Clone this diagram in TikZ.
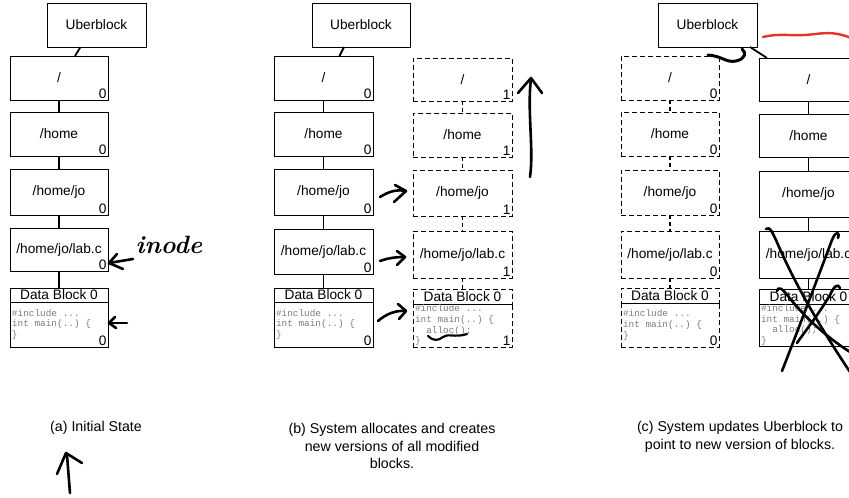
\documentclass[tikz,border=0pt]{standalone}
\usepackage{fontspec}
\newfontfamily\helv{Liberation Sans}
\setmonofont{Liberation Mono}
\usetikzlibrary{calc}
\definecolor{codegray}{RGB}{125,125,125}
\definecolor{penred}{RGB}{228,52,40}
\newcommand\labfont{\fontsize{13.7}{15}\selectfont}
\newcommand\capfont{\fontsize{14.2}{17.5}\selectfont}
\newcommand\codefont{\ttfamily\fontsize{9.4}{10.7}\selectfont}
\tikzset{
  x=1pt, y=-1pt,
  every node/.style={inner sep=0pt, outer sep=0pt},
  blk/.style={draw, line width=1pt, anchor=north west, minimum width=98pt, font=\helv\labfont},
  dblk/.style={blk, dash pattern=on 5pt off 3pt},
  nr/.style={label={[anchor=south east, font=\helv\labfont, inner sep=1.5pt]south east:#1}},
  code/.style={anchor=west, align=left, font=\codefont, text=codegray},
  link/.style={line width=1.8pt},
  dlink/.style={line width=1.3pt, dash pattern=on 4pt off 3pt},
  hand/.style={line width=2.6pt, line cap=round, line join=round},
  caption/.style={font=\helv\capfont, align=center},
}
\begin{document}
\begin{tikzpicture}
\useasboundingbox (0,0) rectangle (849,498);
\clip (0,0) rectangle (849,498);

% ---------------- panel (a)
\node[blk, minimum width=99pt, minimum height=44pt] (ubA) at (47,3) {Uberblock};
\node[blk, minimum height=44pt, nr=0] (a1) at (10,56) {/};
\node[blk, minimum height=44pt, nr=0] (a2) at (10,112) {/home};
\node[blk, minimum height=46pt, nr=0] (a3) at (10,169) {/home/jo};
\node[blk, minimum height=43pt, nr=0] (a4) at (10,228) {/home/jo/lab.c};
\node[blk, minimum height=14pt] (aH) at (10,288) {Data Block 0};
\node[blk, minimum height=45pt, nr=0] (aB) at (10,302) {};
\node[code] (aC) at ($(aB.west)+(2,0)$) {\#include ...\\int main(..) \{\\\}};
\draw[link] ($(ubA.south)+(-16,0)$) -- ($(a1.north)+(16,0)$);
\draw[link] (a1.south) -- (a2.north);
\draw[link] (a2.south) -- (a3.north);
\draw[link] (a3.south) -- (a4.north);
\draw[link] (a4.south) -- (aH.north);

% ---------------- panel (b)
\node[blk, minimum width=98pt, minimum height=44pt] (ubB) at (312,3) {Uberblock};
\node[blk, minimum width=99pt, minimum height=44pt, nr=0] (b1) at (274,56) {/};
\node[blk, minimum width=99pt, minimum height=44pt, nr=0] (b2) at (274,112) {/home};
\node[blk, minimum width=99pt, minimum height=46pt, nr=0] (b3) at (274,169) {/home/jo};
\node[blk, minimum width=99pt, minimum height=45pt, nr=0] (b4) at (274,229) {/home/jo/lab.c};
\node[blk, minimum width=99pt, minimum height=14pt] (bH) at (274,288) {Data Block 0};
\node[blk, minimum width=99pt, minimum height=45pt, nr=0] (bB) at (274,302) {};
\node[code] (bC) at ($(bB.west)+(2,0)$) {\#include ...\\int main(..) \{\\\}};
\draw[link] ($(ubB.south)+(-17,0)$) -- ($(b1.north)+(16,0)$);
\draw[link] (b1.south) -- (b2.north);
\draw[link] (b2.south) -- (b3.north);
\draw[link] (b3.south) -- (b4.north);
\draw[link] (b4.south) -- (bH.north);

\node[dblk, minimum width=99pt, minimum height=43pt, nr=1] (n1) at (413,58) {/};
\node[dblk, minimum width=99pt, minimum height=44pt, nr=1] (n2) at (413,113) {/home};
\node[dblk, minimum width=99pt, minimum height=46pt, nr=1] (n3) at (413,170) {/home/jo};
\node[dblk, minimum width=99pt, minimum height=47pt, nr=1] (n4) at (413,231) {/home/jo/lab.c};
\node[dblk, minimum width=99pt, minimum height=15pt] (nH) at (413,289) {Data Block 0};
\node[dblk, minimum width=99pt, minimum height=43pt, nr=1] (nB) at (413,304) {};
\node[code] (nC) at ($(nB.west)+(2,0)$) {\#include ...\\int main(..) \{\\\ \ alloc();\\\}};
\draw[dlink] (n1.south) -- (n2.north);
\draw[dlink] (n2.south) -- (n3.north);
\draw[dlink] (n3.south) -- (n4.north);
\draw[dlink] (n4.south) -- (nH.north);

% ---------------- panel (c)
\node[blk, minimum width=99pt, minimum height=44pt] (ubC) at (658,3) {Uberblock};
\node[dblk, minimum height=44pt, nr=0] (c1) at (621,56) {/};
\node[dblk, minimum height=44pt, nr=0] (c2) at (621,112) {/home};
\node[dblk, minimum height=45pt, nr=0] (c3) at (621,170) {/home/jo};
\node[dblk, minimum height=47pt, nr=0] (c4) at (621,231) {/home/jo/lab.c};
\node[dblk, minimum height=15pt] (cH) at (621,288) {Data Block 0};
\node[dblk, minimum height=44pt, nr=0] (cB) at (621,303) {};
\node[code] (cC) at ($(cB.west)+(2,0)$) {\#include ...\\int main(..) \{\\\}};
\draw[dlink] (c1.south) -- (c2.north);
\draw[dlink] (c2.south) -- (c3.north);
\draw[dlink] (c3.south) -- (c4.north);
\draw[dlink] (c4.south) -- (cH.north);

\node[blk, minimum width=99pt, minimum height=43pt, nr=1] (d1) at (759,58) {/};
\node[blk, minimum width=99pt, minimum height=43pt, nr=1] (d2) at (759,114) {/home};
\node[blk, minimum width=99pt, minimum height=46pt, nr=1] (d3) at (759,171) {/home/jo};
\node[blk, minimum width=99pt, minimum height=47pt, nr=1] (d4) at (759,231) {/home/jo/lab.c};
\node[blk, minimum width=99pt, minimum height=15pt] (dH) at (759,289) {Data Block 0};
\node[blk, minimum width=99pt, minimum height=42pt, nr=1] (dB) at (759,304) {};
\node[code] (dC) at ($(dB.west)+(2,0)$) {\#include ...\\int main(..) \{\\\ \ alloc();\\\}};
\draw[link] ($(ubC.south east)+(-7,0)$) -- ($(d1.north west)+(8,0)$);
\draw[link] (d1.south) -- (d2.north);
\draw[link] (d2.south) -- (d3.north);
\draw[link] (d3.south) -- (d4.north);
\draw[link] (d4.south) -- (dH.north);

% ---------------- captions
\node[caption] (capA) at (96,428) {(a) Initial State};
\node[caption] (capB) at (392,446) {(b) System allocates and creates\\new versions of all modified\\blocks.};
\node[caption] (capC) at (740,437) {(c) System updates Uberblock to\\point to new version of blocks.};

% ---------------- hand annotations, panel (a)
\draw[hand] (117,254) -- (109,263) -- (123,269);
\draw[hand] (109,263) -- (133,259);
\node[font=\bfseries\itshape\fontsize{25}{25}\selectfont] (inode) at (169,245) {inode};
\draw[hand] (127,323) -- (109,323);
\draw[hand] (115,317) -- (109,323) -- (116,328);
\draw[hand] (70,493) -- (67,455);
\draw[hand] (57,474) -- (66,453) -- (82,463);

% ---------------- hand annotations, panel (b)
\draw[hand] (380,197) .. controls (388,192) and (396,189) .. (406,191);
\draw[hand] (395,185) -- (406,191) -- (394,202);
\draw[hand] (380,261) .. controls (388,258) and (396,257) .. (405,257);
\draw[hand] (397,251) -- (405,257) -- (397,265);
\draw[hand] (378,321) .. controls (386,314) and (396,310) .. (406,311);
\draw[hand] (398,304) -- (406,311) -- (399,319);
\draw[line width=2.2pt, line cap=round] (428,336) .. controls (433,341) and (438,341) .. (443,337) .. controls (448,333) and (455,338) .. (467,334);
\draw[hand] (530,177) .. controls (534,150) and (527,110) .. (531,79);
\draw[hand] (518,93) -- (531,78) -- (542,93);

% ---------------- hand annotations, panel (c)
\draw[line width=3pt, line cap=round, line join=round] (708,55) .. controls (722,56) and (726,63) .. (736,61) .. controls (745,59) and (747,53) .. (742,49);
\draw[line width=2.4pt, draw=penred, line cap=round] (763,37) .. controls (780,33) and (790,36) .. (805,35) .. controls (820,34) and (832,30) .. (851,38);
\draw[hand] (766,229) .. controls (770,226) and (772,232) .. (776,240) .. controls (795,285) and (822,330) .. (850,372);
\draw[hand] (838,238) .. controls (840,232) and (836,230) .. (832,240) .. controls (815,285) and (798,330) .. (782,371);
\draw[hand] (777,291) .. controls (778,286) and (782,288) .. (788,296) .. controls (805,318) and (828,338) .. (850,352);
\draw[hand] (840,288) .. controls (838,283) and (834,286) .. (830,295) .. controls (818,315) and (806,330) .. (797,343);
\end{tikzpicture}
\end{document}
